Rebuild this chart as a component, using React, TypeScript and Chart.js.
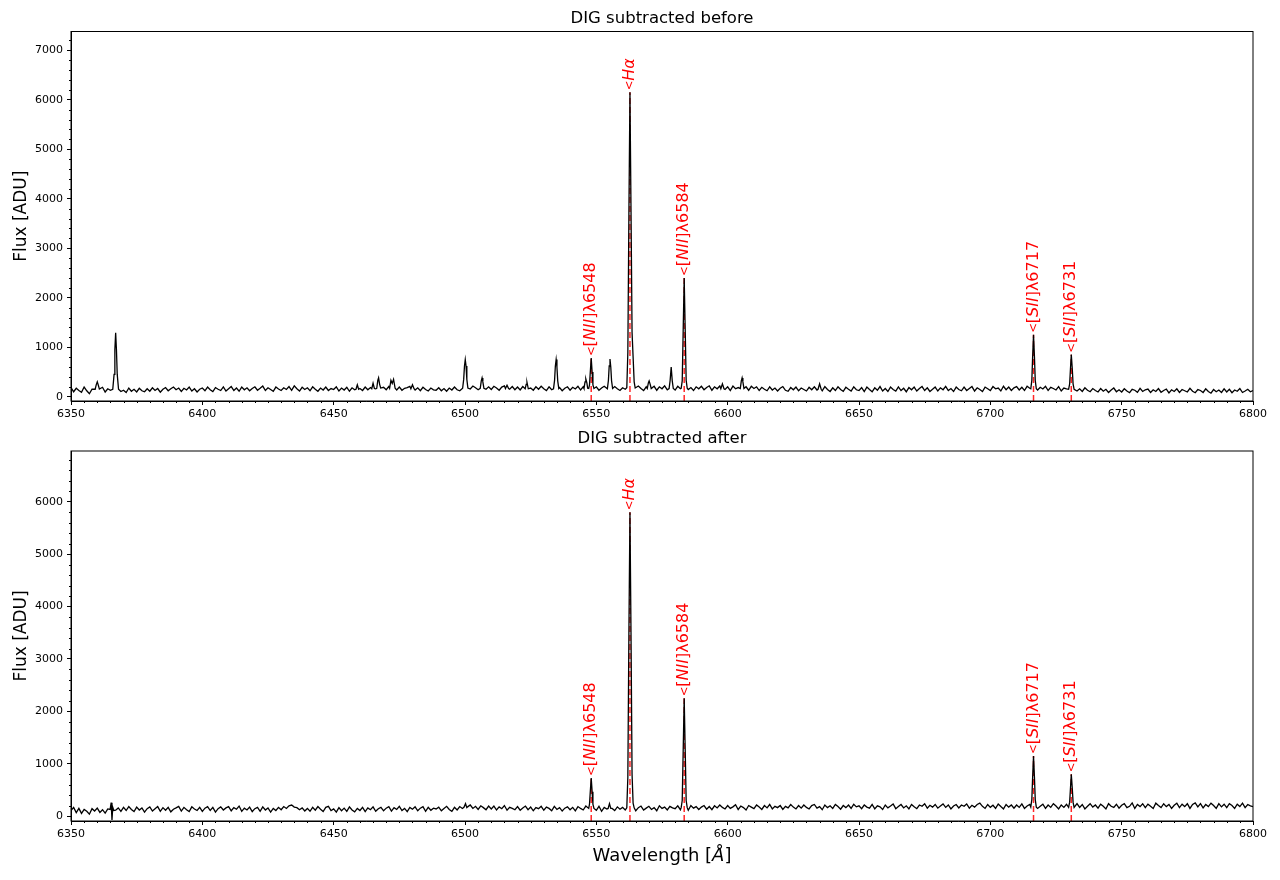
import React, { useEffect, useRef } from "react";
import { Chart, registerables } from "chart.js";

Chart.register(...registerables);

// ---------------- data ----------------
const WL_START = 6350;
const WL_STEP = 1;
const X_MIN = 6350;
const X_MAX = 6800;
const X_TICKS = [6350, 6400, 6450, 6500, 6550, 6600, 6650, 6700, 6750, 6800];
const TOP_Y_TICKS = [0, 1000, 2000, 3000, 4000, 5000, 6000, 7000];
const BOTTOM_Y_TICKS = [0, 1000, 2000, 3000, 4000, 5000, 6000];
const TOP_Y_RANGE = [-87, 7380];
const BOTTOM_Y_RANGE = [-90, 6967];

const TOP_TITLE = "DIG subtracted before";
const BOTTOM_TITLE = "DIG subtracted after";
const Y_LABEL = "Flux [ADU]";

// continuum samples on a 1 Å grid, 6350 … 6800 (one row = 10 Å)
const TOP_CONTINUUM = [
  185, 100, 170, 125, 90, 195, 120, 60, 150, 175,
  140, 110, 190, 95, 160, 130, 175, 150, 165, 105,
  130, 85, 175, 110, 150, 95, 170, 120, 100, 160,
  110, 180, 125, 165, 90, 150, 185, 120, 160, 195,
  140, 175, 105, 170, 135, 195, 115, 160, 95, 150,
  175, 120, 195, 140, 105, 185, 150, 125, 200, 115,
  160, 205, 125, 175, 110, 195, 140, 180, 120, 165,
  200, 130, 170, 215, 125, 180, 145, 110, 195, 155,
  125, 180, 145, 205, 130, 220, 160, 115, 190, 145,
  180, 120, 200, 150, 110, 175, 135, 195, 125, 165,
  145, 200, 115, 175, 135, 190, 110, 180, 140, 205,
  165, 125, 195, 140, 185, 205, 160, 215, 150, 190,
  140, 205, 160, 185, 135, 195, 130, 170, 185, 210,
  190, 135, 180, 120, 190, 145, 115, 175, 140, 130,
  180, 120, 165, 110, 175, 135, 195, 140, 120, 200,
  205, 210, 155, 215, 180, 140, 195, 225, 150, 200,
  145, 210, 175, 130, 195, 220, 190, 150, 205, 140,
  195, 135, 205, 160, 215, 175, 130, 200, 150, 210,
  160, 125, 200, 140, 210, 150, 185, 120, 170, 200,
  130, 190, 155, 210, 135, 200, 215, 160, 200, 145,
  200, 130, 175, 210, 145, 190, 135, 205, 160, 125,
  180, 150, 190, 210, 195, 135, 215, 165, 125, 200,
  185, 145, 210, 130, 200, 160, 220, 140, 195, 180,
  135, 210, 160, 200, 215, 145, 185, 125, 200, 160,
  210, 140, 185, 220, 130, 200, 160, 215, 180, 145,
  200, 125, 215, 160, 185, 220, 140, 200, 130, 210,
  165, 200, 125, 190, 150, 120, 200, 135, 175, 115,
  170, 205, 130, 110, 185, 140, 195, 120, 175, 145,
  115, 190, 140, 200, 135, 175, 120, 205, 145, 105,
  180, 125, 200, 145, 110, 190, 150, 115, 200, 140,
  125, 185, 105, 195, 145, 100, 180, 130, 205, 115,
  165, 105, 195, 145, 115, 200, 125, 170, 100, 185,
  140, 195, 115, 165, 205, 125, 180, 105, 150, 195,
  115, 180, 140, 210, 125, 165, 105, 195, 145, 120,
  195, 125, 165, 205, 115, 180, 145, 105, 195, 160,
  125, 205, 160, 175, 115, 210, 140, 195, 125, 180,
  205, 135, 190, 125, 210, 170, 150, 200, 135, 190,
  155, 210, 125, 190, 165, 135, 205, 115, 175, 160,
  140, 190, 170, 115, 160, 105, 180, 130, 100, 165,
  125, 95, 165, 110, 150, 85, 135, 175, 100, 140,
  95, 160, 115, 80, 150, 130, 90, 170, 105, 140,
  155, 85, 140, 105, 165, 90, 125, 155, 75, 140,
  105, 160, 85, 145, 120, 95, 170, 110, 80, 145,
  125, 85, 160, 105, 70, 145, 100, 135, 85, 160,
  95, 150, 80, 135, 110, 165, 85, 115, 150, 100,
  125,
];

const BOTTOM_CONTINUUM = [
  110, 170, 70, 150, 55, 130, 95, 40, 145, 100,
  155, 75, 125, 60, 140, 165, 180, 115, 160, 95,
  170, 110, 185, 130, 90, 175, 120, 160, 80, 145,
  180, 100, 145, 185, 95, 165, 115, 170, 85, 135,
  160, 190, 100, 170, 125, 90, 180, 140, 110, 170,
  95, 155, 185, 110, 170, 80, 145, 180, 120, 160,
  185, 105, 165, 135, 195, 95, 155, 120, 175, 90,
  145, 170, 95, 180, 120, 160, 80, 150, 110, 170,
  125, 185, 150, 200, 215, 175, 165, 125, 160, 100,
  150, 95, 170, 115, 185, 135, 90, 170, 190, 110,
  140, 80, 165, 105, 155, 95, 180, 120, 85, 150,
  110, 170, 90, 160, 125, 180, 95, 145, 170, 105,
  155, 185, 100, 165, 130, 190, 110, 150, 90, 170,
  135, 180, 105, 155, 185, 95, 170, 115, 155, 140,
  175, 105, 150, 190, 130, 95, 170, 120, 185, 150,
  205, 180, 215, 150, 190, 130, 200, 165, 125, 195,
  140, 195, 120, 180, 145, 205, 115, 170, 150, 125,
  185, 115, 160, 195, 125, 175, 105, 165, 145, 190,
  115, 175, 150, 105, 190, 130, 165, 100, 155, 180,
  125, 170, 105, 185, 150, 120, 195, 135, 150, 170,
  115, 190, 95, 170, 140, 200, 150, 110, 180, 135,
  170, 120, 155, 140, 180, 105, 165, 195, 120, 155,
  190, 130, 165, 105, 200, 150, 175, 120, 190, 160,
  145, 200, 125, 180, 160, 115, 205, 155, 185, 130,
  175, 205, 135, 185, 125, 200, 160, 215, 170, 140,
  205, 150, 180, 220, 130, 195, 165, 120, 205, 175,
  145, 215, 175, 130, 205, 160, 225, 140, 190, 165,
  205, 130, 190, 160, 225, 175, 140, 205, 155, 215,
  170, 140, 205, 225, 155, 185, 125, 215, 165, 200,
  150, 225, 185, 135, 205, 165, 215, 150, 230, 180,
  200, 145, 215, 175, 155, 225, 140, 200, 180, 130,
  215, 160, 195, 235, 145, 185, 225, 160, 200, 140,
  225, 180, 145, 215, 190, 240, 155, 210, 175, 225,
  155, 195, 235, 170, 215, 140, 195, 225, 160, 215,
  190, 235, 155, 210, 175, 225, 250, 190, 150, 225,
  170, 210, 150, 235, 185, 140, 225, 175, 215, 155,
  215, 170, 235, 150, 195, 225, 165, 210, 150, 190,
  230, 150, 215, 170, 240, 195, 140, 215, 170, 230,
  195, 160, 215, 240, 170, 225, 140, 190, 240, 175,
  215, 155, 230, 190, 140, 240, 190, 170, 230, 155,
  210, 240, 165, 190, 255, 150, 225, 185, 240, 165,
  230, 190, 150, 250, 205, 165, 240, 185, 225, 150,
  210, 250, 165, 230, 185, 240, 150, 225, 255, 180,
  240, 160, 225, 185, 250, 205, 150, 240, 180, 230,
  165, 240, 205, 150, 230, 185, 250, 165, 225, 200,
  185,
];

// emission-line profiles, [wavelength, flux] samples
const TOP_LINES: number[][][] = [
  [[6359.2, 150], [6359.6, 240], [6360.0, 300], [6360.4, 230], [6360.8, 155]],
  [[6365.9, 150], [6366.4, 450], [6366.7, 950], [6367.0, 1290], [6367.3, 950], [6367.6, 450], [6368.1, 150]],
  [[6458.5, 150], [6459.0, 240], [6459.5, 150]],
  [[6464.5, 160], [6465.0, 270], [6465.5, 165]],
  [[6466.4, 170], [6466.8, 330], [6467.1, 380], [6467.5, 250], [6467.9, 175]],
  [[6471.3, 170], [6471.8, 330], [6472.3, 270], [6472.8, 350], [6473.4, 170]],
  [[6479.4, 160], [6480.0, 240], [6480.6, 160]],
  [[6499.1, 170], [6499.5, 350], [6499.8, 620], [6500.1, 750], [6500.4, 620], [6500.7, 350], [6501.1, 175]],
  [[6505.8, 170], [6506.2, 320], [6506.5, 380], [6506.8, 300], [6507.2, 170]],
  [[6515.4, 165], [6516.0, 230], [6516.6, 165]],
  [[6522.9, 160], [6523.3, 250], [6523.6, 290], [6524.1, 160]],
  [[6533.7, 160], [6534.1, 330], [6534.4, 620], [6534.7, 750], [6535.0, 600], [6535.3, 320], [6535.7, 165]],
  [[6545.3, 165], [6545.7, 300], [6546.0, 360], [6546.4, 280], [6546.7, 170]],
  [[6547.1, 165], [6547.4, 240], [6547.7, 500], [6548.05, 780], [6548.4, 500], [6548.7, 240], [6549.1, 165]],
  [[6554.2, 160], [6554.6, 330], [6554.9, 620], [6555.2, 760], [6555.5, 600], [6555.8, 320], [6556.2, 165]],
  [[6561.6, 180], [6562.0, 900], [6562.4, 3700], [6562.8, 6150], [6563.2, 3800], [6563.6, 1300], [6564.0, 800], [6564.4, 300], [6564.8, 175]],
  [[6569.4, 165], [6569.8, 280], [6570.1, 320], [6570.5, 250], [6570.9, 165]],
  [[6577.7, 165], [6578.1, 330], [6578.5, 600], [6578.9, 320], [6579.3, 165]],
  [[6582.3, 170], [6582.7, 320], [6583.1, 1450], [6583.45, 2400], [6583.8, 1450], [6584.2, 330], [6584.6, 170]],
  [[6597.4, 160], [6598.0, 260], [6598.6, 160]],
  [[6604.8, 165], [6605.2, 320], [6605.5, 380], [6605.8, 300], [6606.2, 165]],
  [[6634.4, 150], [6635.0, 260], [6635.6, 150]],
  [[6715.4, 160], [6715.8, 330], [6716.1, 800], [6716.44, 1250], [6716.8, 800], [6717.1, 330], [6717.5, 160]],
  [[6729.8, 150], [6730.2, 260], [6730.5, 560], [6730.82, 850], [6731.2, 560], [6731.5, 260], [6731.9, 150]],
];

const BOTTOM_LINES: number[][][] = [
  [[6364.9, 130], [6365.3, 260], [6365.6, -70], [6365.9, 170], [6366.3, 110]],
  [[6499.6, 170], [6500.2, 240], [6500.7, 165]],
  [[6547.1, 150], [6547.4, 230], [6547.7, 470], [6548.05, 730], [6548.4, 470], [6548.7, 230], [6549.1, 150]],
  [[6554.5, 150], [6555.0, 240], [6555.5, 150]],
  [[6561.6, 160], [6562.0, 750], [6562.4, 3500], [6562.8, 5800], [6563.2, 3500], [6563.6, 800], [6564.0, 250], [6564.4, 160]],
  [[6582.3, 165], [6582.7, 300], [6583.1, 1350], [6583.45, 2250], [6583.8, 1350], [6584.2, 300], [6584.6, 165]],
  [[6715.4, 175], [6715.8, 320], [6716.1, 740], [6716.44, 1150], [6716.8, 740], [6717.1, 320], [6717.5, 175]],
  [[6729.8, 170], [6730.2, 270], [6730.5, 530], [6730.82, 800], [6731.2, 530], [6731.5, 270], [6731.9, 170]],
];

// marked lines
const MARK_WL = [6548.05, 6562.8, 6583.45, 6716.44, 6730.82];
const TOP_MARK_PEAKS = [780, 6150, 2400, 1250, 850];
const BOTTOM_MARK_PEAKS = [730, 5800, 2250, 1150, 800];
// label pieces: [text, italic?, small?]
const MARK_LABELS: [string, boolean, boolean][][] = [
  [["<", false, true], ["[", false, false], ["NII", true, false], ["]", false, false], ["λ6548", false, false]],
  [["<", false, true], ["Hα", true, false]],
  [["<", false, true], ["[", false, false], ["NII", true, false], ["]", false, false], ["λ6584", false, false]],
  [["<", false, true], ["[", false, false], ["SII", true, false], ["]", false, false], ["λ6717", false, false]],
  [["<", false, true], ["[", false, false], ["SII", true, false], ["]", false, false], ["λ6731", false, false]],
];

// ---------------- helpers ----------------
const FONT = "'DejaVu Sans', 'Liberation Sans', sans-serif";

function buildSpectrum(cont: number[], lines: number[][][]) {
  const pts: { x: number; y: number }[] = [];
  cont.forEach((v, i) => {
    const wl = WL_START + i * WL_STEP;
    const inside = lines.some(
      (l) => wl >= l[0][0] - 0.2 && wl <= l[l.length - 1][0] + 0.2
    );
    if (!inside) pts.push({ x: wl, y: v });
  });
  lines.forEach((l) => l.forEach(([x, y]) => pts.push({ x, y })));
  pts.sort((a, b) => a.x - b.x);
  return pts;
}

function setFont(ctx: CanvasRenderingContext2D, italic: boolean, size: number) {
  ctx.font = `${italic ? "italic " : ""}${size}px ${FONT}`;
}

function drawPieces(
  ctx: CanvasRenderingContext2D,
  pieces: [string, boolean, boolean?][],
  size: number,
  x0: number
) {
  let x = x0;
  pieces.forEach(([t, it, sm]) => {
    const s = sm ? size * 0.72 : size;
    setFont(ctx, it, s);
    ctx.fillText(t, x, sm ? 0.5 : 0);
    x += ctx.measureText(t).width;
  });
  return x;
}

function piecesWidth(ctx: CanvasRenderingContext2D, pieces: [string, boolean, boolean?][], size: number) {
  let w = 0;
  pieces.forEach(([t, it, sm]) => {
    setFont(ctx, it, sm ? size * 0.72 : size);
    w += ctx.measureText(t).width;
  });
  return w;
}

type PanelCfg = {
  title: string;
  titleY: number;
  peaks: number[];
  xLabelY: number | null;
};

function decorPlugin(cfg: PanelCfg) {
  return {
    id: "decor",
    afterDraw(chart: any) {
      const { ctx, chartArea: a, scales } = chart;
      const xs = scales.x;
      const ys = scales.y;
      ctx.save();
      // frame
      ctx.strokeStyle = "#000";
      ctx.lineWidth = 1;
      ctx.strokeRect(a.left, a.top, a.right - a.left, a.bottom - a.top);

      // minor ticks
      ctx.beginPath();
      for (let v = X_MIN; v <= X_MAX; v += 5) {
        if (v % 50 === 0) continue;
        const px = Math.round(xs.getPixelForValue(v)) + 0.5;
        ctx.moveTo(px, a.bottom);
        ctx.lineTo(px, a.bottom + 2);
      }
      const yMin = ys.min;
      const yMax = ys.max;
      for (let v = Math.ceil(yMin / 200) * 200; v <= yMax; v += 200) {
        if (v % 1000 === 0) continue;
        const py = Math.round(ys.getPixelForValue(v)) + 0.5;
        ctx.moveTo(a.left, py);
        ctx.lineTo(a.left - 2, py);
      }
      ctx.stroke();

      // title
      ctx.fillStyle = "#000";
      ctx.font = `16.5px ${FONT}`;
      ctx.textAlign = "center";
      ctx.textBaseline = "middle";
      ctx.fillText(cfg.title, (a.left + a.right) / 2, cfg.titleY);

      // y label
      ctx.save();
      ctx.translate(22, (a.top + a.bottom) / 2);
      ctx.rotate(-Math.PI / 2);
      ctx.font = `17px ${FONT}`;
      ctx.fillText(Y_LABEL, 0, 0);
      ctx.restore();

      // x label
      if (cfg.xLabelY !== null) {
        const pieces: [string, boolean, boolean][] = [
          ["Wavelength [", false, false],
          ["Å", true, false],
          ["]", false, false],
        ];
        const w = piecesWidth(ctx, pieces, 18);
        ctx.save();
        ctx.translate((a.left + a.right) / 2 - w / 2, cfg.xLabelY);
        ctx.textAlign = "left";
        ctx.textBaseline = "middle";
        drawPieces(ctx, pieces, 18, 0);
        ctx.restore();
      }

      // line labels
      ctx.fillStyle = "#ff0000";
      MARK_WL.forEach((wl, i) => {
        const px = xs.getPixelForValue(wl);
        const py = ys.getPixelForValue(cfg.peaks[i]) - 2;
        ctx.save();
        ctx.translate(px, py);
        ctx.rotate(-Math.PI / 2);
        ctx.textAlign = "left";
        ctx.textBaseline = "middle";
        drawPieces(ctx, MARK_LABELS[i], 16, 0);
        ctx.restore();
      });
      ctx.restore();
    },
  };
}

function makeConfig(
  spectrum: { x: number; y: number }[],
  yRange: number[],
  yTicks: number[],
  peaks: number[],
  padTop: number,
  xAxisHeight: number,
  cfg: PanelCfg
): any {
  const markSets = MARK_WL.map((wl, i) => ({
    data: [
      { x: wl, y: yRange[0] },
      { x: wl, y: peaks[i] },
    ],
    borderColor: "rgba(255,0,0,0.85)",
    borderWidth: 1.5,
    borderDash: [6, 3],
    pointRadius: 0,
    fill: false,
  }));
  return {
    type: "line",
    data: {
      datasets: [
        {
          data: spectrum,
          borderColor: "#000",
          borderWidth: 1.3,
          pointRadius: 0,
          tension: 0,
          fill: false,
        },
        ...markSets,
      ],
    },
    options: {
      animation: false,
      responsive: false,
      maintainAspectRatio: false,
      events: [],
      layout: { padding: { top: padTop, right: 27, left: 0, bottom: 0 } },
      plugins: { legend: { display: false }, tooltip: { enabled: false }, title: { display: false } },
      scales: {
        x: {
          type: "linear",
          min: X_MIN,
          max: X_MAX,
          afterBuildTicks: (s: any) => {
            s.ticks = X_TICKS.map((v) => ({ value: v }));
          },
          afterFit: (s: any) => {
            s.height = xAxisHeight;
          },
          ticks: {
            color: "#000",
            font: { family: FONT, size: 11 },
            padding: 3,
            maxRotation: 0,
            autoSkip: false,
            callback: (v: any) => String(v),
          },
          grid: { drawOnChartArea: false, drawTicks: true, tickLength: 4, color: "#000", lineWidth: 1 },
          border: { display: true, color: "#000", width: 1 },
        },
        y: {
          type: "linear",
          min: yRange[0],
          max: yRange[1],
          afterBuildTicks: (s: any) => {
            s.ticks = yTicks.map((v) => ({ value: v }));
          },
          afterFit: (s: any) => {
            s.width = 71;
          },
          ticks: {
            color: "#000",
            font: { family: FONT, size: 11 },
            padding: 4,
            autoSkip: false,
            callback: (v: any) => String(v),
          },
          grid: { drawOnChartArea: false, drawTicks: true, tickLength: 4, color: "#000", lineWidth: 1 },
          border: { display: true, color: "#000", width: 1 },
        },
      },
    },
    plugins: [decorPlugin(cfg)],
  };
}

export default function App() {
  const topRef = useRef<HTMLCanvasElement>(null);
  const botRef = useRef<HTMLCanvasElement>(null);

  useEffect(() => {
    const topSpec = buildSpectrum(TOP_CONTINUUM, TOP_LINES);
    const botSpec = buildSpectrum(BOTTOM_CONTINUUM, BOTTOM_LINES);
    const c1 = new Chart(
      topRef.current!,
      makeConfig(topSpec, TOP_Y_RANGE, TOP_Y_TICKS, TOP_MARK_PEAKS, 31.5, 29, {
        title: TOP_TITLE,
        titleY: 19,
        peaks: TOP_MARK_PEAKS,
        xLabelY: null,
      })
    );
    const c2 = new Chart(
      botRef.current!,
      makeConfig(botSpec, BOTTOM_Y_RANGE, BOTTOM_Y_TICKS, BOTTOM_MARK_PEAKS, 21, 59, {
        title: BOTTOM_TITLE,
        titleY: 9,
        peaks: BOTTOM_MARK_PEAKS,
        xLabelY: 426,
      })
    );
    return () => {
      c1.destroy();
      c2.destroy();
    };
  }, []);

  return (
    <div style={{ position: "absolute", left: 0, top: 0, width: 1280, height: 880, background: "#fff" }}>
      <canvas
        ref={topRef}
        width={1280}
        height={430}
        style={{ position: "absolute", left: 0, top: 0, width: 1280, height: 430 }}
      />
      <canvas
        ref={botRef}
        width={1280}
        height={450}
        style={{ position: "absolute", left: 0, top: 430, width: 1280, height: 450 }}
      />
    </div>
  );
}
